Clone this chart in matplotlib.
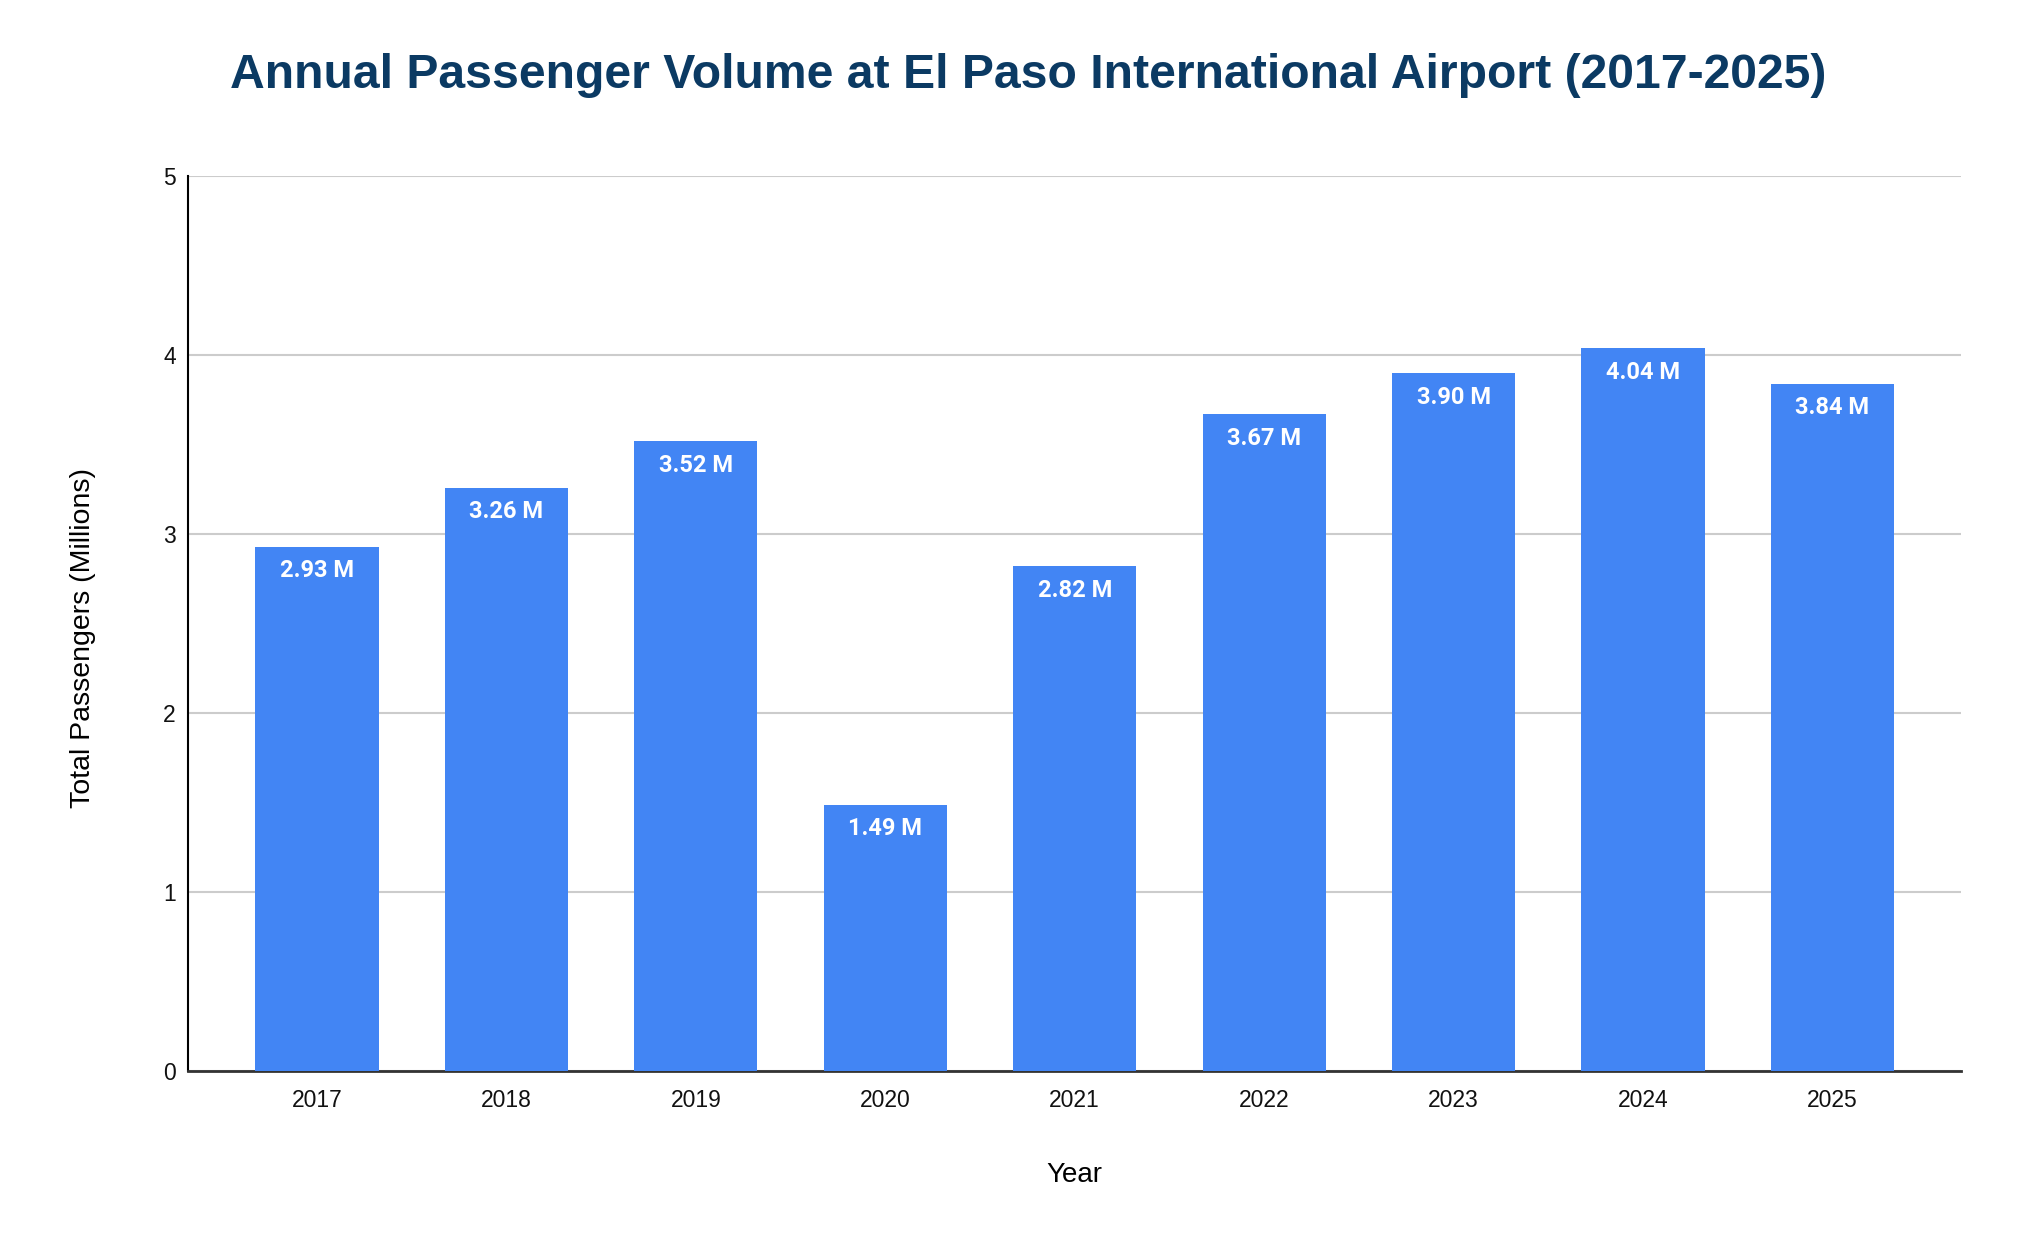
import numpy as np
from matplotlib import pyplot as plt

years = ["2017", "2018", "2019", "2020", "2021", "2022", "2023", "2024", "2025"]
passengers = [2.93, 3.26, 3.52, 1.49, 2.82, 3.67, 3.90, 4.04, 3.84]
y_ticks = [0, 1, 2, 3, 4, 5]

plt.rcParams['font.family'] = ['Liberation Sans', 'DejaVu Sans']

fig = plt.figure(figsize=(20.24, 12.5), dpi=100)
ax = fig.add_axes([0.093, 0.143, 0.876, 0.716])

x = np.arange(len(years))
bars = ax.bar(x, passengers, width=0.65, color="#4285F4", zorder=3)

for b, v in zip(bars, passengers):
    ax.text(b.get_x() + b.get_width() / 2, v - 0.07, f"{v:.2f} M",
            ha="center", va="top", color="white", fontsize=17,
            fontweight="bold", family=["Roboto", "DejaVu Sans"], zorder=4)

ax.set_xlim(-0.68, len(years) - 1 + 0.68)
ax.set_ylim(0, 5)
ax.set_yticks(y_ticks)
ax.set_xticks(x)
ax.set_xticklabels(years)
ax.tick_params(axis="both", length=0, labelsize=16.5, colors="#111111")
ax.tick_params(axis="x", pad=13)
ax.tick_params(axis="y", pad=9)
ax.grid(axis="y", color="#cccccc", linewidth=1.5, zorder=0)

for s in ["top", "right"]:
    ax.spines[s].set_visible(False)
ax.spines["left"].set_color("black")
ax.spines["left"].set_linewidth(1.5)
ax.spines["bottom"].set_color("#333333")
ax.spines["bottom"].set_linewidth(2)

ax.set_xlabel("Year", fontsize=20, labelpad=36)
ax.set_ylabel("Total Passengers (Millions)", fontsize=20.5)
ax.yaxis.set_label_coords(-0.052, 0.484)

fig.suptitle("Annual Passenger Volume at El Paso International Airport (2017-2025)",
             x=0.508, y=0.958, fontsize=34.7, fontweight="bold", color="#0B3A63")

plt.savefig("out.png", dpi=100)
